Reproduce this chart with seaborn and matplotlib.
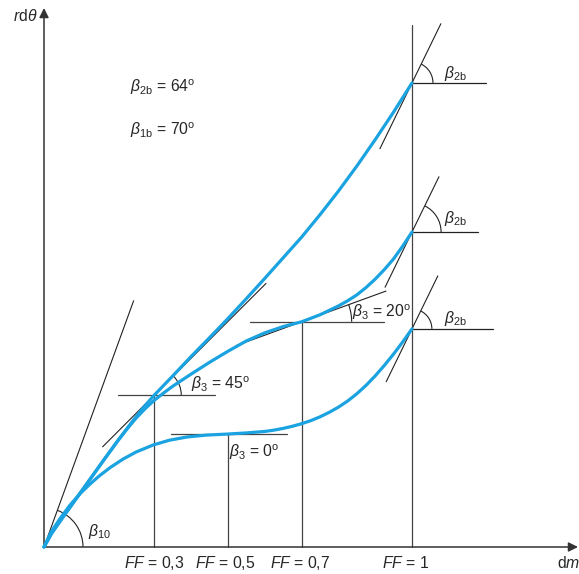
import numpy as np
import pandas as pd
import matplotlib
matplotlib.use("Agg")
import matplotlib.pyplot as plt
from matplotlib.patches import Arc
import seaborn as sns

# Camber lines r·dθ against meridional length dm for three loading positions.
# dm is expressed on the FF scale (0 … 1), r·dθ in the same units.
upper_dm = [0.0, 0.02, 0.045, 0.08, 0.12, 0.16, 0.2, 0.24, 0.27, 0.3, 0.35, 0.4, 0.45,
            0.5, 0.55, 0.6, 0.65, 0.7, 0.75, 0.8, 0.85, 0.9, 0.95, 1.0]
upper_rdt = [0.0, 0.036, 0.072, 0.121, 0.177, 0.233, 0.288, 0.341, 0.379, 0.413, 0.465, 0.518,
             0.569, 0.621, 0.675, 0.730, 0.786, 0.842, 0.903, 0.967, 1.035, 1.107, 1.182, 1.261]

middle_dm = [0.0, 0.02, 0.045, 0.08, 0.12, 0.16, 0.2, 0.225, 0.25, 0.275, 0.3, 0.325, 0.35,
             0.4, 0.45, 0.5, 0.55, 0.6, 0.65, 0.7, 0.75, 0.8, 0.825, 0.85, 0.875, 0.9,
             0.925, 0.95, 0.975, 1.0]
middle_rdt = [0.0, 0.036, 0.072, 0.121, 0.177, 0.233, 0.288, 0.320, 0.350, 0.376, 0.399, 0.4185,
              0.437, 0.470, 0.502, 0.532, 0.560, 0.582, 0.599, 0.612, 0.631, 0.655, 0.669,
              0.685, 0.705, 0.728, 0.754, 0.783, 0.818, 0.856]

lower_dm = [0.0, 0.02, 0.0435, 0.07, 0.1, 0.125, 0.15, 0.18, 0.215, 0.25, 0.296, 0.34, 0.389,
            0.44, 0.5, 0.55, 0.6, 0.625, 0.65, 0.675, 0.7, 0.725, 0.75, 0.775, 0.8, 0.825,
            0.85, 0.875, 0.9, 0.925, 0.95, 0.975, 1.0]
lower_rdt = [0.0, 0.042, 0.077, 0.113, 0.147, 0.171, 0.193, 0.216, 0.239, 0.258, 0.277, 0.290,
             0.299, 0.304, 0.307, 0.310, 0.314, 0.3176, 0.3223, 0.3281, 0.335, 0.3434, 0.3537,
             0.3659, 0.380, 0.3966, 0.4163, 0.4391, 0.465, 0.4936, 0.5245, 0.5576, 0.5928]

# Reference positions on the dm axis and blade angles (degrees)
ff_values = [0.3, 0.5, 0.7, 1.0]
ff_texts = ["0,3", "0,5", "0,7", "1"]
beta3_ff = [0.3, 0.5, 0.7]
beta3_deg = [45, 0, 20]
beta2b_deg = 64
beta1b_deg = 70
beta10_deg = 70

BLUE = "#1aa3e0"
INK = "#222222"
GREY = "#444444"

sns.set_style("white")
plt.rcParams["font.family"] = ["Liberation Sans", "DejaVu Sans"]
plt.rcParams["mathtext.fontset"] = "custom"
plt.rcParams["mathtext.rm"] = "Liberation Sans"
plt.rcParams["mathtext.it"] = "Liberation Sans:italic"
plt.rcParams["mathtext.bf"] = "Liberation Sans:bold"

curves = pd.concat([
    pd.DataFrame({"dm": upper_dm, "rdt": upper_rdt, "curve": "upper"}),
    pd.DataFrame({"dm": middle_dm, "rdt": middle_rdt, "curve": "middle"}),
    pd.DataFrame({"dm": lower_dm, "rdt": lower_rdt, "curve": "lower"}),
], ignore_index=True)

PX = 368.0  # pixels per unit on both axes
fig = plt.figure(figsize=(5.79, 5.74), dpi=100)
ax = fig.add_axes([0, 0, 1, 1])
ax.set_xlim(-44 / PX, 535 / PX)
ax.set_ylim(-27 / PX, 547 / PX)
ax.set_aspect("equal")
ax.axis("off")

FS = 11.3


def value_at(xs, ys, x):
    return ys[xs.index(x)]


def segment(x0, y0, deg, back, fwd):
    a = np.deg2rad(deg)
    ax.plot([x0 - back * np.cos(a), x0 + fwd * np.cos(a)],
            [y0 - back * np.sin(a), y0 + fwd * np.sin(a)],
            color=INK, lw=0.8, solid_capstyle="butt", zorder=2)


def angle_arc(x0, y0, r, deg):
    ax.add_patch(Arc((x0, y0), 2 * r, 2 * r, theta1=0, theta2=deg,
                     color=INK, lw=0.8, zorder=2))


# Axes with arrows
ax.annotate("", xy=(534 / PX, 0), xytext=(0, 0),
            arrowprops=dict(arrowstyle="-|>", color="#333333", lw=1.1,
                            mutation_scale=14, shrinkA=0, shrinkB=0))
ax.annotate("", xy=(0, 539 / PX), xytext=(0, 0),
            arrowprops=dict(arrowstyle="-|>", color="#333333", lw=1.1,
                            mutation_scale=14, shrinkA=0, shrinkB=0))

# Points where the characteristic blade angle β3 is reached
p03 = (0.3, value_at(upper_dm, upper_rdt, 0.3))
p05 = (0.5, value_at(lower_dm, lower_rdt, 0.5))
p07 = (0.7, value_at(middle_dm, middle_rdt, 0.7))
ends = [(1.0, upper_rdt[-1]), (1.0, middle_rdt[-1]), (1.0, lower_rdt[-1])]

# Vertical FF lines
for (x0, y0) in [p03, p05, p07]:
    ax.plot([x0, x0], [0, y0], color=GREY, lw=0.9, zorder=1)
ax.plot([1.0, 1.0], [0, 522 / PX], color=GREY, lw=0.9, zorder=1)

# Horizontal reference lines at the β3 points
for (x0, y0), (l, r) in zip([p03, p05, p07], [(0.098, 0.165), (0.155, 0.16), (0.14, 0.225)]):
    ax.plot([x0 - l, x0 + r], [y0, y0], color=GREY, lw=0.9, zorder=1)

# Tangents at β3 = 45° and β3 = 20°
segment(*p03, beta3_deg[0], 0.20, 0.43)
angle_arc(*p03, 0.073, beta3_deg[0])
segment(*p07, beta3_deg[2], 0.19, 0.245)
angle_arc(*p07, 0.136, beta3_deg[2])

# Leading edge tangent β10
segment(0, 0, beta10_deg, 0, 0.713)
angle_arc(0, 0, 0.106, beta10_deg)

# Trailing edge: horizontal, tangent at β2b and arc
for (x0, y0), hl, (tb, tf), r in zip(ends, [0.201, 0.179, 0.22],
                                      [(0.2, 0.18), (0.168, 0.168), (0.161, 0.161)],
                                      [0.057, 0.079, 0.054]):
    ax.plot([x0, x0 + hl], [y0, y0], color=INK, lw=0.9, zorder=2)
    segment(x0, y0, beta2b_deg, tb, tf)
    angle_arc(x0, y0, r, beta2b_deg)

# Camber lines
sns.lineplot(data=curves, x="dm", y="rdt", hue="curve", units="curve",
             palette=[BLUE, BLUE, BLUE], estimator=None, sort=False,
             legend=False, lw=2.3, ax=ax, zorder=3)
for line in ax.get_lines()[-3:]:
    line.set_solid_joinstyle("round")
    line.set_solid_capstyle("round")

# Labels
ax.text(-0.019, 1.443, r"$r{\rm d}\theta$", ha="right", va="center", fontsize=FS)
ax.text(1.394, -0.043, r"${\rm d}m$", ha="left", va="center", fontsize=FS, clip_on=False)
for x0, t, shift in zip(ff_values, ff_texts, [0.0, -0.008, -0.005, -0.018]):
    ax.text(x0 + shift, -0.043, r"$FF$ = " + t, ha="center", va="center", fontsize=FS)

ax.text(0.234, 1.25, r"$\beta_{\rm 2b}$ = %d$^{\rm o}$" % beta2b_deg, ha="left", va="center", fontsize=FS)
ax.text(0.234, 1.133, r"$\beta_{\rm 1b}$ = %d$^{\rm o}$" % beta1b_deg, ha="left", va="center", fontsize=FS)
ax.text(0.12, 0.041, r"$\beta_{\rm 10}$", ha="left", va="center", fontsize=FS)
for (x0, y0), deg, (dx, dy) in zip([p03, p05, p07], beta3_deg,
                                    [(0.10, 0.03), (0.003, -0.049), (0.137, 0.025)]):
    ax.text(x0 + dx, y0 + dy, r"$\beta_{\rm 3}$ = %d$^{\rm o}$" % deg,
            ha="left", va="center", fontsize=FS)
for (x0, y0), dy in zip(ends, [0.027, 0.038, 0.027]):
    ax.text(x0 + 0.087, y0 + dy, r"$\beta_{\rm 2b}$", ha="left", va="center", fontsize=FS)

fig.savefig("out.png", dpi=100)
